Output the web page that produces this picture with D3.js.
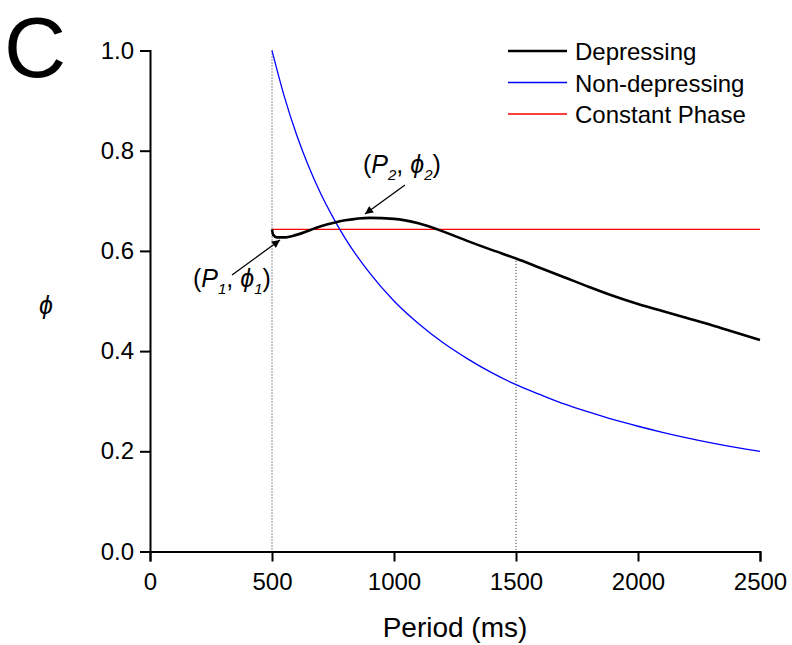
<!DOCTYPE html>
<html>
<head>
<meta charset="utf-8">
<script src="https://cdn.jsdelivr.net/npm/d3@7"></script>
<style>
  body { margin: 0; background: #fff; }
  svg text { font-family: "Liberation Sans", Arial, sans-serif; fill: #000; }
</style>
</head>
<body>
<div id="chart"></div>
<script>
// data
const depPeriod = [500, 505, 520, 550, 600, 700, 800, 900, 1000, 1100, 1200, 1300, 1400, 1500, 1600, 1700, 1800, 1900, 2000, 2100, 2200, 2300, 2400, 2500];
const depPhase = [0.643, 0.632, 0.627, 0.627, 0.632, 0.649, 0.661, 0.666, 0.664, 0.655, 0.639, 0.620, 0.602, 0.585, 0.566, 0.547, 0.528, 0.510, 0.494, 0.480, 0.466, 0.452, 0.437, 0.422];
const nonPeriod = [500, 550, 600, 650, 700, 750, 800, 900, 1000, 1100, 1200, 1300, 1400, 1500, 1600, 1700, 1800, 1900, 2000, 2100, 2200, 2300, 2400, 2500];
const nonPhase = [1.0, 0.909, 0.833, 0.769, 0.714, 0.667, 0.625, 0.556, 0.5, 0.455, 0.417, 0.385, 0.357, 0.333, 0.313, 0.294, 0.278, 0.263, 0.25, 0.238, 0.227, 0.217, 0.208, 0.2];
const constPeriod = [500, 2500];
const constPhase = [0.643, 0.643];
const markPeriod = [500, 1500];
const markTop = [1.0, 0.58];
const xTicks = [0, 500, 1000, 1500, 2000, 2500];
const yTicks = [0, 0.2, 0.4, 0.6, 0.8, 1.0];
const seriesNames = ["Depressing", "Non-depressing", "Constant Phase"];
const seriesColors = ["#000000", "#0000ff", "#ff0000"];

const W = 792, H = 645;
const svg = d3.select("#chart").append("svg")
    .attr("width", W).attr("height", H);

const x = d3.scaleLinear().domain([0, 2500]).range([150, 760]);
const y = d3.scaleLinear().domain([0, 1]).range([551.5, 50.5]);

// dotted guide lines
markPeriod.forEach((p, i) => {
    svg.append("line")
        .attr("x1", x(p)).attr("x2", x(p))
        .attr("y1", y(markTop[i])).attr("y2", y(0))
        .attr("stroke", "#222").attr("stroke-width", 1)
        .attr("stroke-dasharray", "1,2");
});

const line = d3.line().x(d => x(d[0])).y(d => y(d[1]));

svg.append("path")
    .datum(constPeriod.map((p, i) => [p, constPhase[i]]))
    .attr("d", line).attr("fill", "none")
    .attr("stroke", seriesColors[2]).attr("stroke-width", 1.3);

svg.append("path")
    .datum(nonPeriod.map((p, i) => [p, nonPhase[i]]))
    .attr("d", line.curve(d3.curveMonotoneX)).attr("fill", "none")
    .attr("stroke", seriesColors[1]).attr("stroke-width", 1.3);

svg.append("path")
    .datum(depPeriod.map((p, i) => [p, depPhase[i]]))
    .attr("d", line.curve(d3.curveMonotoneX)).attr("fill", "none")
    .attr("stroke", seriesColors[0]).attr("stroke-width", 2.6)
    .attr("stroke-linejoin", "round");

// axes
const xAxis = svg.append("g")
    .attr("transform", `translate(0,${y(0)})`)
    .call(d3.axisBottom(x).tickValues(xTicks).tickSize(10).tickPadding(6).tickFormat(d3.format("d")));
const yAxis = svg.append("g")
    .attr("transform", `translate(${x(0)},0)`)
    .call(d3.axisLeft(y).tickValues(yTicks).tickSize(10).tickPadding(6).tickFormat(d3.format(".1f")));

[xAxis, yAxis].forEach(g => {
    g.select(".domain").attr("stroke", "#000").attr("stroke-width", 2);
    g.selectAll(".tick line").attr("stroke", "#000").attr("stroke-width", 2);
    g.selectAll(".tick text").attr("font-size", 24)
        .style("font-family", "'Liberation Sans', Arial, sans-serif").attr("fill", "#000");
});
xAxis.selectAll(".tick text").attr("dy", "0.95em");

// axis titles
svg.append("text")
    .attr("x", x(1250)).attr("y", 637)
    .attr("text-anchor", "middle").attr("font-size", 28)
    .text("Period (ms)");

svg.append("text")
    .attr("x", 46).attr("y", 314)
    .attr("text-anchor", "middle").attr("font-size", 25)
    .attr("font-style", "italic")
    .text("\u03d5");

// panel letter
svg.append("text")
    .attr("x", 4).attr("y", 77)
    .attr("font-size", 86)
    .text("C");

// legend
seriesNames.forEach((name, i) => {
    const by = 60 + i * 31.5;
    svg.append("line")
        .attr("x1", 508).attr("x2", 567)
        .attr("y1", by - 9).attr("y2", by - 9)
        .attr("stroke", seriesColors[i]).attr("stroke-width", i === 0 ? 2.6 : 1.3);
    svg.append("text")
        .attr("x", 575).attr("y", by)
        .attr("font-size", 24)
        .text(name);
});

// annotations
svg.append("defs").append("marker")
    .attr("id", "arrow").attr("viewBox", "0 0 10 10")
    .attr("refX", 10).attr("refY", 5)
    .attr("markerWidth", 10).attr("markerHeight", 8)
    .attr("markerUnits", "userSpaceOnUse")
    .attr("orient", "auto")
    .append("path").attr("d", "M0,0L10,5L0,10Z").attr("fill", "#000");

function label(tx, ty, idx) {
    const t = svg.append("text").attr("x", tx).attr("y", ty).attr("font-size", 25);
    t.append("tspan").text("(");
    t.append("tspan").attr("font-style", "italic").text("P");
    t.append("tspan").attr("font-style", "italic").attr("font-size", 15).attr("dy", 7).text(idx);
    t.append("tspan").attr("dy", -7).text(", ");
    t.append("tspan").attr("font-style", "italic").text("\u03d5");
    t.append("tspan").attr("font-style", "italic").attr("font-size", 15).attr("dy", 7).text(idx);
    t.append("tspan").attr("dy", -7).text(")");
}
label(363, 173, "2");
label(193, 287, "1");

svg.append("line")
    .attr("x1", 405).attr("y1", 185).attr("x2", 365).attr("y2", 214)
    .attr("stroke", "#000").attr("stroke-width", 1.3)
    .attr("marker-end", "url(#arrow)");
svg.append("line")
    .attr("x1", 232).attr("y1", 275).attr("x2", 280).attr("y2", 240)
    .attr("stroke", "#000").attr("stroke-width", 1.3)
    .attr("marker-end", "url(#arrow)");
</script>
</body>
</html>
